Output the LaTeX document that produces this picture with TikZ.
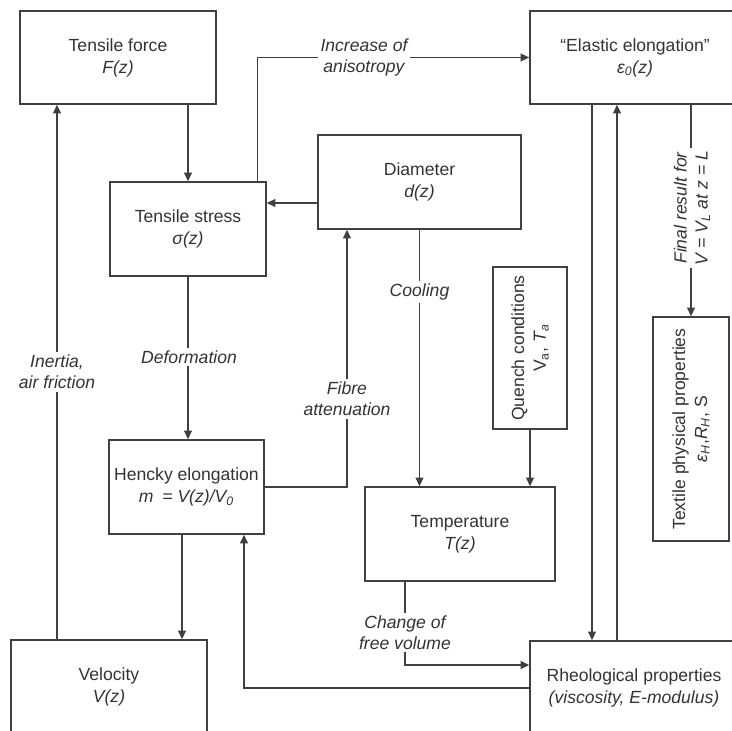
\documentclass[tikz,border=0pt]{standalone}
\usepackage{fontspec}
\setmainfont{Liberation Sans}
\usetikzlibrary{arrows.meta}

\begin{document}
\begin{tikzpicture}
[
  box/.style={draw=black!75,line width=0.8pt,align=center,inner sep=2pt,font=\fontsize{10}{12.5}\selectfont,text=black!80},
  lbl/.style={fill=white,align=center,inner sep=1.5pt,font=\fontsize{10}{12}\selectfont\itshape,text=black!80},
  flow/.style={draw=black!75,line width=0.8pt,-{Triangle[length=5pt,width=4.5pt]}}
]

\clip (0,0) rectangle (14.64,-14.62);

\node[box,minimum width=3.92cm,minimum height=1.86cm] (force) at (2.36,-1.15) {Tensile force\\\textit{F(z)}};
\node[box,minimum width=3.12cm,minimum height=1.88cm] (stress) at (3.76,-4.58) {Tensile stress\\\textit{σ(z)}};
\node[box,minimum width=4.06cm,minimum height=1.88cm] (diam) at (8.39,-3.64) {Diameter\\\textit{d(z)}};
\node[box,minimum width=4.20cm,minimum height=1.86cm] (elastic) at (12.70,-1.15) {“Elastic elongation”\\\textit{ε\textsubscript{0}(z)}};
\node[box,minimum width=3.10cm,minimum height=1.88cm] (hencky) at (3.73,-9.74) {Hencky elongation\\\textit{m\enspace= V(z)/V\textsubscript{0}}};
\node[box,minimum width=3.92cm,minimum height=1.88cm] (velocity) at (2.18,-13.74) {Velocity\\\textit{V(z)}};
\node[box,minimum width=3.80cm,minimum height=1.88cm] (temp) at (9.20,-10.68) {Temperature\\\textit{T(z)}};
\node[box,minimum width=4.16cm,minimum height=1.88cm] (rheo) at (12.68,-13.76) {Rheological properties\\\textit{(viscosity, E-modulus)}};

% upright boxes, text turned: east = top, west = bottom
\node[box,rotate=90,minimum width=3.24cm,minimum height=1.48cm] (quench) at (10.60,-6.96) {Quench conditions\\V\textsubscript{a}, \textit{T\textsubscript{a}}};
\node[box,rotate=90,minimum width=4.48cm,minimum height=1.52cm] (textile) at (13.82,-8.58) {Textile physical properties\\\textit{ε\textsubscript{H}},\textit{R\textsubscript{H}}, S};


\draw[flow] (stress.north |- force.south) -- (stress.north);
\draw[flow] ([xshift=-0.18cm]stress.north east) |- (elastic.west);
\draw[flow] ([yshift=-0.42cm]diam.west) -- ([yshift=-0.42cm]diam.west -| stress.east);
\draw[flow] (stress.south) -- (stress.south |- hencky.north);
\draw[flow] (hencky.east) -| ([xshift=-1.45cm]diam.south);
\draw[flow] (diam.south) -- (diam.south |- temp.north);
\draw[flow] (quench.west) -- (quench.west |- temp.north);
\draw[flow] ([xshift=-0.09cm]hencky.south) -- ([xshift=-0.09cm]hencky.south |- velocity.north);
\draw[flow] ([xshift=-1.04cm]velocity.north) -- ([xshift=-1.04cm]velocity.north |- force.south);
\draw[flow] (rheo.west) -| ([xshift=1.15cm]hencky.south);
\draw[flow] ([xshift=-1.1cm]temp.south) |- ([yshift=0.46cm]rheo.west);
\draw[flow] ([xshift=-0.86cm]elastic.south) -- ([xshift=-0.86cm]elastic.south |- rheo.north);
\draw[flow] ([xshift=-0.34cm]rheo.north) -- ([xshift=-0.34cm]rheo.north |- elastic.south);
\draw[flow] (textile.east |- elastic.south) -- (textile.east);


\node[lbl] (inc) at (7.28,-1.15) {Increase of\\anisotropy};
\node[lbl] (cool) at (8.39,-5.84) {Cooling};
\node[lbl] (deform) at (3.78,-7.14) {Deformation};
\node[lbl] (inert) at (1.14,-7.44) {Inertia,\\air friction};
\node[lbl] (fibre) at (6.94,-7.98) {Fibre\\attenuation};
\node[lbl] (change) at (8.10,-12.65) {Change of\\free volume};
\node[lbl,rotate=90] (final) at (13.84,-4.16) {Final result for\\V = V\textsubscript{L} at z = L};

\end{tikzpicture}
\end{document}
